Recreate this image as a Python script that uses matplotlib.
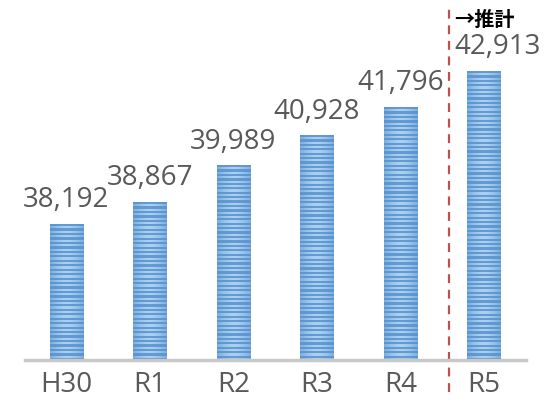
import matplotlib.pyplot as plt
import numpy as np

plt.rcParams['font.family'] = ['Open Sans', 'Noto Sans CJK JP', 'DejaVu Sans']

# data
years = ['H30', 'R1', 'R2', 'R3', 'R4', 'R5']
values = [38192, 38867, 39989, 40928, 41796, 42913]

fig = plt.figure(figsize=(5.57, 4.08), dpi=100)
ax = fig.add_axes([0.044, 0.118, 0.9, 0.882])

x = np.arange(len(years))
bars = ax.bar(x, values, width=0.4, bottom=0, color='none', edgecolor='none')
ax.set_xlim(-0.5, 5.5)
ax.set_ylim(34000, 45100)

# striped blue fill, lighter in the middle of each bar
def stripe_image(px_h, px_w):
    rows = max(int(px_h / 2.2), 2)
    cols = max(int(px_w), 2)
    t = np.linspace(-1, 1, cols)
    shade = 1 - np.abs(t) ** 1.5
    dark = np.array([0.33, 0.56, 0.80])
    light = np.array([0.70, 0.84, 0.96])
    img = np.zeros((rows, cols, 3))
    for r in range(rows):
        k = 0.15 if r % 2 == 0 else 0.8
        w = np.clip(k * (0.55 + 0.6 * shade), 0, 1)
        img[r] = dark[None, :] * (1 - w[:, None]) + light[None, :] * w[:, None]
    return img

fig.canvas.draw()
for b in bars:
    x0, x1 = b.get_x(), b.get_x() + b.get_width()
    y0, y1 = 34000, b.get_height()
    p0 = ax.transData.transform((x0, y0))
    p1 = ax.transData.transform((x1, y1))
    img = stripe_image(abs(p1[1] - p0[1]), abs(p1[0] - p0[0]))
    ax.imshow(img, extent=(x0, x1, y0, y1), aspect='auto',
              interpolation='nearest', zorder=2)

ax.set_xlim(-0.5, 5.5)
ax.set_ylim(34000, 45100)

# value labels
for i, v in enumerate(values):
    dx = 10 if i == len(values) - 1 else 0
    ax.annotate(f'{v:,}', (x[i], v), xytext=(dx, 7), textcoords='offset points',
                ha='center', va='bottom', fontsize=20, color='#595959')

# forecast divider
ax.axvline(4.58, ymin=-0.09, ymax=0.975, color='#c0504d', lw=1.6,
           ls=(0, (4, 3)), clip_on=False, zorder=3)
ax.text(4.64, 44500, '→推計', fontsize=14.5, fontweight='bold', color='black',
        ha='left', va='center', family=['Noto Sans CJK JP', 'DejaVu Sans'])

ax.set_xticks(x)
ax.set_xticklabels(years, fontsize=20, color='#595959')
ax.tick_params(axis='x', length=0, pad=8)
ax.set_yticks([])
for s in ['top', 'left', 'right']:
    ax.spines[s].set_visible(False)
ax.spines['bottom'].set_color('#c8c8c8')
ax.spines['bottom'].set_linewidth(2.5)
ax.spines['bottom'].set_zorder(4)

fig.savefig('out.png', dpi=100)
